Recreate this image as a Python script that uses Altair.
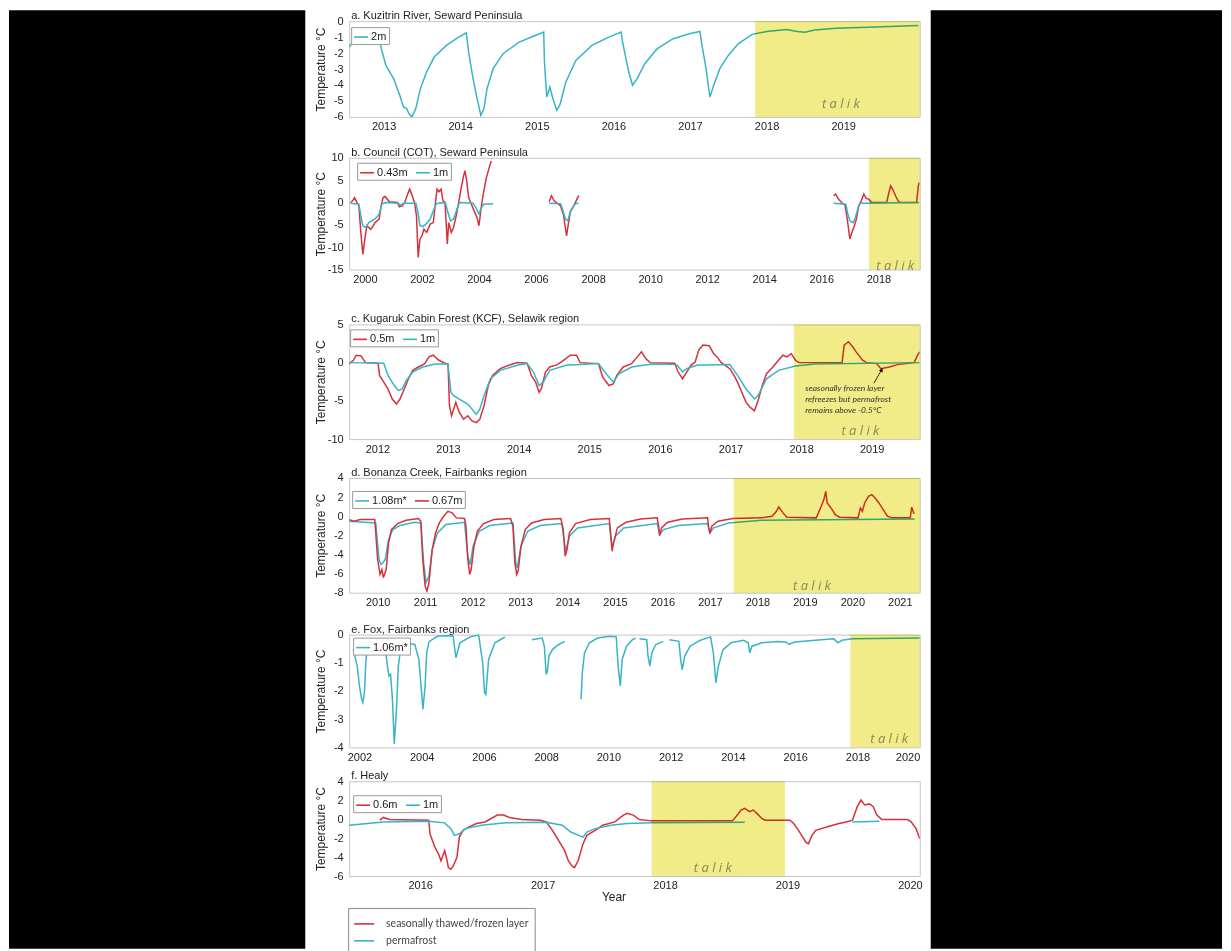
import altair as alt
import pandas as pd

FONT = "Liberation Sans"
NOTE_FONT = "Lato"
RED = "#d5323b"
CYAN = "#37b4c6"
TALIK_FILL = "#f2ec88"
TALIK_INK = "#86865a"
INK = "#222222"

# ---------------- data: (decimal year, temperature °C) ----------------
A_2M = [(2012.55, -1.63), (2012.63, -1.10), (2012.71, -0.79), (2012.84, -0.65), (2012.93, -0.65),
        (2012.97, -1.73), (2013.03, -2.77), (2013.13, -3.60), (2013.21, -4.65), (2013.26, -5.38),
        (2013.30, -5.48), (2013.33, -5.79), (2013.37, -6.0), (2013.42, -5.48), (2013.48, -4.23),
        (2013.56, -3.19), (2013.66, -2.25), (2013.82, -1.52), (2013.98, -1.0), (2014.08, -0.73),
        (2014.11, -1.94), (2014.16, -3.40), (2014.22, -4.85), (2014.27, -5.90), (2014.31, -5.48),
        (2014.35, -4.23), (2014.43, -2.98), (2014.56, -2.04), (2014.77, -1.31), (2014.98, -0.90),
        (2015.09, -0.69), (2015.10, -2.56), (2015.13, -4.75), (2015.17, -4.13), (2015.21, -4.85),
        (2015.26, -5.58), (2015.30, -5.27), (2015.38, -3.81), (2015.51, -2.46), (2015.72, -1.52),
        (2015.94, -1.0), (2016.10, -0.69), (2016.12, -1.31), (2016.20, -3.19), (2016.25, -4.02),
        (2016.31, -3.60), (2016.41, -2.67), (2016.57, -1.73), (2016.78, -1.10), (2016.99, -0.79),
        (2017.13, -0.65), (2017.15, -1.31), (2017.21, -2.98), (2017.26, -4.75), (2017.31, -4.02),
        (2017.39, -2.98), (2017.50, -2.15), (2017.63, -1.42), (2017.81, -0.83), (2018.00, -0.65),
        (2018.26, -0.52), (2018.40, -0.65), (2018.50, -0.69), (2018.63, -0.56), (2018.90, -0.44),
        (2019.32, -0.38), (2019.98, -0.27)]

B_043_1 = [(1999.50, 0.0), (1999.57, 0.37), (1999.64, 1.12), (1999.71, 0.15), (1999.79, -0.75),
           (1999.86, -6.7), (1999.93, -11.6), (2000.00, -8.2), (2000.07, -5.2), (2000.21, -6.0),
           (2000.36, -4.5), (2000.50, -3.7), (2000.57, -0.75), (2000.64, 1.12), (2000.71, 1.34),
           (2000.86, 0.15), (2001.14, 0.0), (2001.21, -0.97), (2001.31, -0.75), (2001.40, 0.0),
           (2001.50, 1.87), (2001.57, 2.99), (2001.64, 1.87), (2001.74, 0.0), (2001.81, -3.0),
           (2001.87, -12.3), (2001.93, -8.2), (2002.00, -7.5), (2002.07, -6.0), (2002.17, -6.7),
           (2002.29, -4.85), (2002.40, -4.5), (2002.47, -0.37), (2002.53, 2.99), (2002.60, 2.39),
           (2002.67, 2.99), (2002.74, 0.37), (2002.81, 0.0), (2002.89, -9.3), (2002.94, -4.5),
           (2003.03, -6.7), (2003.11, -5.6), (2003.20, -3.0), (2003.29, 0.0), (2003.37, 2.99),
           (2003.46, 5.97), (2003.51, 7.1), (2003.57, 4.85), (2003.64, 1.12), (2003.71, 0.0),
           (2003.83, -1.87), (2003.93, -3.36), (2004.00, -5.2), (2004.07, -1.5), (2004.14, 1.5),
           (2004.26, 5.6), (2004.36, 7.8), (2004.43, 9.3)]
B_043_2 = [(2006.46, 0.15), (2006.54, 1.5), (2006.63, 0.37), (2006.74, -0.15), (2006.86, -0.75),
           (2006.97, -3.0), (2007.07, -7.5), (2007.14, -4.5), (2007.21, -1.87), (2007.29, -1.12),
           (2007.37, -0.15), (2007.46, 1.12), (2007.51, 1.5)]
B_043_3 = [(2016.43, 1.5), (2016.50, 1.87), (2016.60, 0.75), (2016.71, 0.0), (2016.83, -0.6),
           (2016.91, -3.7), (2017.00, -8.2), (2017.07, -6.7), (2017.14, -5.6), (2017.23, -3.7),
           (2017.31, -0.75), (2017.40, 0.37), (2017.49, 1.87), (2017.57, 0.9), (2017.66, 0.75),
           (2017.77, 0.0), (2018.29, 0.0), (2018.37, 2.2), (2018.43, 3.7), (2018.50, 3.0),
           (2018.60, 1.5), (2018.71, 0.15), (2018.79, 0.0), (2019.34, 0.0), (2019.40, 3.7),
           (2019.43, 4.5)]
B_1M_1 = [(1999.50, -0.15), (1999.79, -0.37), (1999.86, -3.0), (1999.93, -5.2), (2000.03, -5.6),
          (2000.14, -4.5), (2000.36, -3.7), (2000.50, -2.6), (2000.60, -0.37), (2000.71, 0.0),
          (2001.14, -0.15), (2001.26, -0.6), (2001.37, -0.15), (2001.79, -0.15), (2001.86, -2.2),
          (2001.93, -5.2), (2002.03, -5.4), (2002.14, -4.85), (2002.29, -3.7), (2002.40, -1.87),
          (2002.50, -0.37), (2002.64, -0.07), (2002.83, -0.15), (2002.91, -2.2), (2003.00, -4.1),
          (2003.11, -3.7), (2003.21, -1.87), (2003.29, -0.37), (2003.36, 0.0), (2003.79, -0.15),
          (2003.89, -1.12), (2004.00, -2.6), (2004.09, -1.12), (2004.17, -0.37), (2004.50, -0.3)]
B_1M_2 = [(2006.46, -0.15), (2006.86, -0.3), (2006.93, -1.5), (2007.03, -3.7), (2007.11, -4.1),
          (2007.20, -2.2), (2007.29, -1.12), (2007.37, -0.3), (2007.49, -0.15)]
B_1M_3 = [(2016.43, -0.15), (2016.86, -0.37), (2016.93, -2.6), (2017.00, -4.1), (2017.11, -4.5),
          (2017.20, -3.36), (2017.29, -1.12), (2017.37, -0.15), (2019.43, 0.0)]

C_05 = [(2011.60, -0.13), (2011.66, 0.31), (2011.70, 0.97), (2011.77, 0.88), (2011.83, 0.0),
        (2012.01, -0.09), (2012.03, -1.67), (2012.09, -2.55), (2012.15, -3.44), (2012.21, -4.76),
        (2012.27, -5.42), (2012.32, -4.76), (2012.38, -3.44), (2012.44, -2.11), (2012.50, -1.01),
        (2012.58, -0.57), (2012.67, -0.13), (2012.73, 0.75), (2012.79, 0.97), (2012.87, 0.31),
        (2012.96, -0.09), (2013.00, -0.18), (2013.02, -5.64), (2013.05, -6.96), (2013.11, -5.20),
        (2013.16, -6.52), (2013.22, -7.40), (2013.28, -6.96), (2013.34, -7.62), (2013.40, -7.84),
        (2013.45, -7.40), (2013.51, -5.64), (2013.57, -3.0), (2013.63, -1.67), (2013.74, -0.79),
        (2013.86, -0.35), (2013.98, 0.0), (2014.12, -0.09), (2014.18, -1.67), (2014.24, -2.55),
        (2014.29, -3.88), (2014.32, -3.44), (2014.38, -1.23), (2014.44, -0.57), (2014.55, -0.26),
        (2014.67, 0.53), (2014.73, 0.97), (2014.82, 0.97), (2014.87, 0.0), (2015.13, -0.13),
        (2015.19, -1.89), (2015.28, -3.0), (2015.34, -2.78), (2015.39, -1.67), (2015.48, -0.57),
        (2015.60, -0.13), (2015.68, 0.75), (2015.74, 1.41), (2015.80, 0.53), (2015.86, 0.0),
        (2016.21, -0.09), (2016.26, -1.23), (2016.32, -2.11), (2016.38, -1.23), (2016.44, -0.35),
        (2016.50, 0.09), (2016.55, 1.63), (2016.61, 2.29), (2016.70, 2.20), (2016.76, 1.19),
        (2016.81, 0.75), (2016.87, 0.0), (2016.99, -0.79), (2017.05, -1.67), (2017.10, -2.55),
        (2017.16, -3.88), (2017.22, -5.20), (2017.28, -5.86), (2017.34, -6.30), (2017.39, -4.98),
        (2017.45, -3.0), (2017.51, -1.45), (2017.60, -0.57), (2017.68, 0.31), (2017.74, 0.97),
        (2017.80, 0.75), (2017.86, 1.19), (2017.92, 0.31), (2017.97, 0.0), (2018.58, 0.0),
        (2018.61, 2.29), (2018.67, 2.73), (2018.73, 2.07), (2018.78, 1.41), (2018.87, 0.31),
        (2018.93, 0.0), (2019.07, -0.13), (2019.13, -0.79), (2019.25, -0.57), (2019.36, -0.26),
        (2019.60, 0.0), (2019.65, 0.97), (2019.68, 1.41)]
C_1M = [(2011.60, 0.0), (2012.09, -0.09), (2012.15, -1.67), (2012.24, -3.0), (2012.30, -3.66),
        (2012.35, -3.44), (2012.41, -2.33), (2012.50, -1.23), (2012.64, -0.57), (2012.82, -0.18),
        (2013.00, -0.18), (2013.04, -3.88), (2013.08, -4.32), (2013.16, -4.76), (2013.28, -5.42),
        (2013.40, -6.74), (2013.45, -6.08), (2013.51, -4.32), (2013.60, -2.11), (2013.74, -1.01),
        (2013.98, -0.35), (2014.12, -0.13), (2014.21, -1.23), (2014.29, -3.0), (2014.35, -2.55),
        (2014.44, -1.01), (2014.67, -0.35), (2015.13, -0.13), (2015.22, -1.23), (2015.34, -2.55),
        (2015.42, -1.45), (2015.60, -0.57), (2015.89, -0.18), (2016.24, -0.26), (2016.32, -1.23),
        (2016.38, -0.79), (2016.52, -0.35), (2016.99, -0.26), (2017.10, -1.67), (2017.22, -3.44),
        (2017.34, -4.76), (2017.39, -4.32), (2017.51, -2.11), (2017.68, -1.01), (2017.92, -0.44),
        (2018.20, -0.18), (2019.68, 0.0)]

D_067 = [(2009.40, -0.35), (2009.50, -0.52), (2009.63, -0.35), (2009.94, -0.35), (2010.00, -4.52),
         (2010.05, -6.09), (2010.09, -5.57), (2010.12, -6.43), (2010.18, -5.57), (2010.23, -2.78),
         (2010.29, -1.39), (2010.42, -0.77), (2010.60, -0.42), (2010.86, -0.24), (2010.91, -0.52),
         (2010.95, -4.52), (2011.00, -7.30), (2011.04, -7.83), (2011.08, -6.96), (2011.15, -3.48),
         (2011.22, -1.74), (2011.30, -0.70), (2011.39, 0.0), (2011.48, 0.52), (2011.57, 0.35),
         (2011.66, -0.17), (2011.83, -0.24), (2011.86, -1.04), (2011.90, -4.52), (2011.94, -6.09),
         (2011.97, -5.57), (2012.03, -3.13), (2012.10, -1.57), (2012.23, -0.77), (2012.45, -0.35),
         (2012.80, -0.24), (2012.85, -1.04), (2012.89, -4.87), (2012.93, -6.09), (2012.96, -5.74),
         (2013.02, -3.13), (2013.11, -1.39), (2013.24, -0.70), (2013.51, -0.35), (2013.86, -0.24),
         (2013.91, -1.39), (2013.95, -4.17), (2013.99, -3.48), (2014.04, -1.74), (2014.17, -0.77),
         (2014.48, -0.35), (2014.88, -0.24), (2014.90, -1.39), (2014.94, -3.65), (2014.97, -2.78),
         (2015.05, -1.22), (2015.23, -0.63), (2015.54, -0.28), (2015.89, -0.17), (2015.92, -1.04),
         (2015.94, -2.02), (2015.98, -1.22), (2016.11, -0.63), (2016.42, -0.28), (2016.95, -0.17),
         (2016.97, -1.04), (2017.00, -1.81), (2017.04, -1.04), (2017.17, -0.52), (2017.48, -0.24),
         (2018.09, -0.17), (2018.31, 0.0), (2018.40, 0.52), (2018.45, 0.97), (2018.54, 0.35),
         (2018.62, -0.10), (2019.24, -0.17), (2019.33, 0.87), (2019.40, 1.74), (2019.44, 2.61),
         (2019.47, 1.39), (2019.55, 0.87), (2019.64, 0.17), (2019.73, -0.10), (2020.12, -0.17),
         (2020.17, 0.87), (2020.21, 0.52), (2020.26, 1.39), (2020.34, 2.09), (2020.41, 2.26),
         (2020.48, 1.91), (2020.56, 1.39), (2020.65, 0.70), (2020.74, 0.0), (2020.83, -0.17),
         (2021.22, -0.17), (2021.25, 0.97), (2021.29, 0.35), (2021.31, 0.28)]
D_108 = [(2009.40, -0.52), (2009.72, -0.63), (2009.96, -0.70), (2010.03, -4.52), (2010.07, -5.04),
         (2010.11, -4.87), (2010.16, -4.52), (2010.23, -2.43), (2010.32, -1.39), (2010.47, -0.97),
         (2010.78, -0.63), (2010.91, -0.70), (2010.97, -4.87), (2011.02, -6.96), (2011.08, -6.26),
         (2011.15, -3.48), (2011.26, -1.74), (2011.44, -0.87), (2011.83, -0.63), (2011.90, -4.17),
         (2011.95, -5.04), (2012.01, -3.13), (2012.14, -1.57), (2012.36, -0.97), (2012.85, -0.70),
         (2012.91, -4.87), (2012.94, -5.39), (2013.02, -3.13), (2013.16, -1.57), (2013.42, -0.97),
         (2013.88, -0.77), (2013.96, -3.65), (2014.04, -2.09), (2014.21, -1.22), (2014.88, -0.77),
         (2014.94, -3.30), (2015.01, -2.09), (2015.18, -1.22), (2015.89, -0.77), (2015.94, -1.91),
         (2016.02, -1.39), (2016.33, -0.97), (2016.95, -0.77), (2017.00, -1.74), (2017.08, -1.22),
         (2017.39, -0.70), (2018.09, -0.42), (2021.31, -0.28)]

E_106_1 = [(2001.80, -0.53), (2001.93, -1.12), (2002.00, -1.82), (2002.07, -2.29), (2002.11, -2.41),
           (2002.16, -2.06), (2002.20, -1.12), (2002.24, -0.41), (2002.33, -0.24), (2002.66, -0.29),
           (2002.82, -0.41), (2002.90, -1.12), (2002.95, -1.47), (2003.00, -1.41), (2003.06, -2.29),
           (2003.12, -3.88), (2003.19, -2.65), (2003.25, -1.12), (2003.32, -0.53), (2003.45, -0.29),
           (2003.78, -0.35), (2003.91, -0.88), (2003.98, -1.82), (2004.04, -2.65), (2004.11, -1.82),
           (2004.16, -0.65), (2004.24, -0.24), (2004.51, -0.06), (2004.77, -0.04), (2005.01, -0.06),
           (2005.10, -0.82), (2005.23, -0.29), (2005.56, -0.08), (2005.83, -0.01), (2005.96, -1.0),
           (2006.02, -2.06), (2006.06, -2.12), (2006.15, -0.88), (2006.35, -0.29), (2006.62, -0.12),
           (2006.68, -0.09)]
E_106_2 = [(2007.54, -0.18), (2007.87, -0.12), (2007.94, -0.41), (2008.00, -1.41), (2008.04, -1.29),
           (2008.09, -0.76), (2008.20, -0.53), (2008.40, -0.35), (2008.60, -0.24)]
E_106_3 = [(2009.12, -2.29), (2009.16, -1.35), (2009.23, -0.65), (2009.39, -0.29), (2009.65, -0.12),
           (2010.05, -0.06), (2010.25, -0.08), (2010.31, -1.12), (2010.38, -1.82), (2010.44, -0.88),
           (2010.58, -0.41), (2010.77, -0.18), (2010.87, -0.13)]
E_106_4 = [(2011.00, -0.15), (2011.23, -0.18), (2011.27, -0.76), (2011.33, -1.12), (2011.39, -0.65),
           (2011.52, -0.35), (2011.76, -0.24)]
E_106_5 = [(2011.96, -0.18), (2012.26, -0.24), (2012.32, -0.88), (2012.37, -1.24), (2012.45, -0.76),
           (2012.62, -0.41), (2012.95, -0.20), (2013.28, -0.08), (2013.37, -0.65), (2013.45, -1.71),
           (2013.53, -1.12), (2013.68, -0.53), (2013.94, -0.29), (2014.34, -0.20), (2014.49, -0.29),
           (2014.54, -0.65), (2014.61, -0.41), (2014.93, -0.29), (2015.46, -0.24), (2015.72, -0.27),
           (2015.80, -0.35), (2015.98, -0.26), (2016.64, -0.20), (2017.24, -0.15), (2017.37, -0.29),
           (2017.50, -0.20), (2017.83, -0.15), (2020.00, -0.12)]

F_06 = [(2015.67, -0.11), (2015.70, 0.18), (2015.75, -0.04), (2016.07, -0.11), (2016.08, -1.54),
        (2016.12, -2.96), (2016.15, -3.68), (2016.17, -4.39), (2016.18, -4.04), (2016.20, -3.32),
        (2016.22, -4.39), (2016.23, -5.11), (2016.25, -5.29), (2016.27, -4.93), (2016.30, -4.04),
        (2016.32, -1.89), (2016.35, -1.18), (2016.40, -0.82), (2016.46, -0.46), (2016.53, -0.29),
        (2016.58, 0.07), (2016.63, 0.43), (2016.68, 0.43), (2016.73, 0.18), (2016.83, -0.04),
        (2016.98, -0.11), (2017.03, -0.29), (2017.08, -1.18), (2017.13, -2.25), (2017.18, -3.32),
        (2017.21, -4.39), (2017.24, -4.93), (2017.26, -5.11), (2017.29, -4.39), (2017.33, -2.61),
        (2017.36, -1.71), (2017.43, -1.18), (2017.49, -0.64), (2017.59, -0.29), (2017.66, 0.43),
        (2017.69, 0.61), (2017.74, 0.43), (2017.79, -0.04), (2017.89, -0.18), (2018.55, -0.18),
        (2018.59, 0.43), (2018.62, 0.96), (2018.65, 1.14), (2018.69, 0.79), (2018.72, 0.96),
        (2018.75, 0.61), (2018.79, 0.07), (2018.82, -0.11), (2019.02, -0.11), (2019.05, -0.46),
        (2019.09, -1.18), (2019.15, -2.43), (2019.17, -2.61), (2019.20, -1.71), (2019.23, -1.18),
        (2019.32, -0.82), (2019.42, -0.46), (2019.48, -0.29), (2019.53, -0.11), (2019.57, 1.32),
        (2019.60, 2.04), (2019.63, 1.50), (2019.67, 1.61), (2019.70, 1.32), (2019.73, 0.43),
        (2019.77, -0.04), (2019.98, -0.04), (2020.01, -0.29), (2020.05, -1.00), (2020.08, -2.07)]
F_1M_1 = [(2015.42, -0.64), (2015.70, -0.29), (2016.07, -0.21), (2016.20, -0.39), (2016.25, -1.0),
          (2016.28, -1.71), (2016.32, -1.54), (2016.37, -1.0), (2016.50, -0.64), (2016.70, -0.39),
          (2017.03, -0.32), (2017.16, -0.64), (2017.23, -1.36), (2017.33, -1.89), (2017.36, -1.36),
          (2017.43, -1.0), (2017.56, -0.64), (2017.69, -0.46), (2017.89, -0.39), (2018.65, -0.32)]
F_1M_2 = [(2019.53, -0.29), (2019.75, -0.21)]

# panel texts and axes
PANEL_TITLES = ["a. Kuzitrin River, Seward Peninsula",
                "b. Council (COT), Seward Peninsula",
                "c. Kugaruk Cabin Forest (KCF), Selawik region",
                "d. Bonanza Creek, Fairbanks region",
                "e. Fox, Fairbanks region",
                "f. Healy"]
X_DOMAINS = [[2012.55, 2020.0], [1999.45, 2019.45], [2011.6, 2019.68],
             [2009.4, 2021.42], [2001.67, 2020.0], [2015.42, 2020.08]]
X_TICKS = [list(range(2013, 2020)), list(range(2000, 2019, 2)), list(range(2012, 2020)),
           list(range(2010, 2022)), list(range(2002, 2021, 2)), list(range(2016, 2021))]
Y_DOMAINS = [[-6, 0], [-15, 10], [-10, 5], [-8, 4], [-4, 0], [-6, 4]]
Y_TICKS = [list(range(-6, 1)), list(range(-15, 11, 5)), list(range(-10, 6, 5)),
           list(range(-8, 5, 2)), list(range(-4, 1)), list(range(-6, 5, 2))]
TALIK_START = [2017.85, 2017.67, 2017.90, 2017.50, 2017.77, 2017.89]
TALIK_END = [2020.0, 2019.45, 2019.68, 2021.42, 2020.0, 2018.98]
TALIK_LABEL_YEAR = [2018.97, 2018.59, 2018.84, 2019.15, 2019.02, 2018.39]
TALIK_LABEL_TEMP = [-5.17, -14.2, -8.94, -7.3, -3.7, -5.18]
C_NOTE_LINES = ["seasonally frozen layer", "refreezes but permafrost", "remains above -0.5°C"]
C_NOTE_YEAR = [2018.06, 2018.06, 2018.06]
C_NOTE_TEMP = [-3.35, -4.76, -6.17]
C_ARROW_TAIL = (2019.03, -2.7)
C_ARROW_HEAD = (2019.14, -0.95)
BOTTOM_LEGEND = ["seasonally thawed/frozen layer", "permafrost"]

# ---------------- layout (pixels) ----------------
PLOT_W = 572
HEIGHTS = [96, 112, 115, 115, 113, 95]
SPACINGS = [13, 27, 11, 14, 6]
LEGEND_POS = [(2, 6), (8, 5), (1, 5), (3, 13), (4, 3), (4, 14)]
TOP_EXT = 11
BAND_H = 930


def make_panel(i, series, extra=None, xtitle=None):
    xdom, ydom, h = X_DOMAINS[i], Y_DOMAINS[i], HEIGHTS[i]
    rows = []
    for label, _, segs in series:
        for k, seg in enumerate(segs):
            for yr, t in seg:
                rows.append({"year": yr, "temp": t, "series": label, "seg": f"{label}-{k}"})
    df = pd.DataFrame(rows)

    if xtitle:
        x_axis = alt.Axis(values=X_TICKS[i], format="d", labelOverlap=False, title=xtitle,
                          titlePadding=1, titleFontSize=12, titleX=265)
    else:
        x_axis = alt.Axis(values=X_TICKS[i], format="d", labelOverlap=False, title=None)
    y_axis = alt.Axis(values=Y_TICKS[i], labelExpr="'' + datum.value", labelOverlap=False,
                      title="Temperature °C", titleX=-29, titleY=h / 2, titleAngle=270,
                      titleAlign="center", titleBaseline="middle")
    X = alt.X("year:Q", scale=alt.Scale(domain=xdom, nice=False, zero=False), axis=x_axis)
    Y = alt.Y("temp:Q", scale=alt.Scale(domain=ydom, nice=False, zero=False), axis=y_axis)

    lx, ly = LEGEND_POS[i]
    lines = alt.Chart(df).mark_line(strokeWidth=1.5, clip=True).encode(
        x=X, y=Y,
        color=alt.Color("series:N",
                        scale=alt.Scale(domain=[s[0] for s in series], range=[s[1] for s in series]),
                        legend=alt.Legend(orient="none", legendX=lx, legendY=ly, direction="horizontal",
                                          title=None, symbolType="stroke", symbolSize=196,
                                          symbolStrokeWidth=1.6, labelFont=FONT, labelFontSize=11,
                                          labelColor=INK, labelOffset=2, columnPadding=4, padding=2,
                                          strokeColor="#9a9a9a", fillColor="white")),
        detail="seg:N")

    tdf = pd.DataFrame({"year": [TALIK_START[i]], "year_end": [TALIK_END[i]],
                        "temp": [ydom[1]], "temp_end": [ydom[0]]})
    rect = alt.Chart(tdf).mark_rect(color=TALIK_FILL, blend="multiply").encode(
        x=X, x2="year_end:Q", y=Y, y2="temp_end:Q")
    ldf = pd.DataFrame({"year": [TALIK_LABEL_YEAR[i]], "temp": [TALIK_LABEL_TEMP[i]], "txt": ["t a l i k"]})
    label = alt.Chart(ldf).mark_text(font="Open Sans", fontStyle="italic", fontSize=13,
                                     color=TALIK_INK).encode(x=X, y=Y, text="txt:N")
    layers = [lines, rect, label]
    if extra is not None:
        layers += extra(X, Y)
    return alt.layer(*layers).properties(
        width=PLOT_W, height=h,
        title=alt.TitleParams(PANEL_TITLES[i], anchor="start", frame="group", offset=-4, dx=2, dy=13,
                              baseline="bottom", fontSize=11, fontWeight="normal", font=FONT, color=INK))


def c_extra(X, Y):
    note = pd.DataFrame({"year": C_NOTE_YEAR, "temp": C_NOTE_TEMP, "txt": C_NOTE_LINES})
    t = alt.Chart(note).mark_text(align="left", baseline="middle", font=NOTE_FONT, fontStyle="italic",
                                  fontSize=8.5, color="#333333").encode(x=X, y=Y, text="txt:N")
    arrow = pd.DataFrame({"year": [C_ARROW_TAIL[0]], "temp": [C_ARROW_TAIL[1]],
                          "year_end": [C_ARROW_HEAD[0]], "temp_end": [C_ARROW_HEAD[1]]})
    r = alt.Chart(arrow).mark_rule(color="black", strokeWidth=0.8).encode(
        x=X, y=Y, x2="year_end:Q", y2="temp_end:Q")
    head = pd.DataFrame({"year": [C_ARROW_HEAD[0]], "temp": [C_ARROW_HEAD[1]]})
    p = alt.Chart(head).mark_point(shape="triangle-up", filled=True, size=18, angle=26,
                                   color="black", opacity=1).encode(x=X, y=Y)
    return [t, r, p]


def f_extra(X, Y):
    d = pd.DataFrame({"year": [X_DOMAINS[5][0]] * 2, "temp": [Y_DOMAINS[5][0]] * 2,
                      "layer": BOTTOM_LEGEND})
    leg = alt.Chart(d).mark_line(clip=True).encode(
        x=X, y=Y,
        stroke=alt.Stroke("layer:N", scale=alt.Scale(domain=BOTTOM_LEGEND, range=[RED, CYAN]),
                          legend=alt.Legend(orient="none", legendX=-1, legendY=127, direction="vertical",
                                            title=None, symbolType="stroke", symbolSize=400,
                                            symbolStrokeWidth=1.6, labelFont=NOTE_FONT, labelFontSize=10.5,
                                            labelColor="#444444", labelOffset=11, padding=5, rowPadding=0,
                                            strokeColor="#8a8a8a", fillColor="white")))
    return [leg]


p_a = make_panel(0, [("2m", CYAN, [A_2M])])
p_b = make_panel(1, [("0.43m", RED, [B_043_1, B_043_2, B_043_3]), ("1m", CYAN, [B_1M_1, B_1M_2, B_1M_3])])
p_c = make_panel(2, [("0.5m", RED, [C_05]), ("1m", CYAN, [C_1M])], extra=c_extra)
p_d = make_panel(3, [("1.08m*", CYAN, [D_108]), ("0.67m", RED, [D_067])])
p_e = make_panel(4, [("1.06m*", CYAN, [E_106_1, E_106_2, E_106_3, E_106_4, E_106_5])])
p_f = make_panel(5, [("0.6m", RED, [F_06]), ("1m", CYAN, [F_1M_1, F_1M_2])], extra=f_extra, xtitle="Year")


def stack(top, rest, s):
    return alt.vconcat(top, rest, spacing=s).resolve_scale(
        color="independent", stroke="independent", x="independent", y="independent")


main = stack(p_a, stack(p_b, stack(p_c, stack(p_d, stack(p_e, p_f, SPACINGS[4]), SPACINGS[3]),
                                     SPACINGS[2]), SPACINGS[1]), SPACINGS[0])


def band(w):
    # black side band (page letterbox), reaching the top of the title row
    return alt.Chart(pd.DataFrame({"v": [0]})).mark_rect(color="black").encode(
        x=alt.value(0), x2=alt.value(w), y=alt.value(-TOP_EXT), y2=alt.value(BAND_H)
    ).properties(width=w, height=BAND_H, view=alt.ViewBackground(stroke="transparent"))


chart = alt.hconcat(band(297), main, band(292), spacing=7).properties(
    padding=0, background="white"
).configure(font=FONT).configure_view(stroke="#c6c6c6", strokeWidth=1).configure_axis(
    labelFont=FONT, labelFontSize=11, labelColor=INK, titleFont=FONT, titleFontSize=12,
    titleFontWeight="normal", titleColor=INK, ticks=False, tickSize=0, domain=False, grid=False
).configure_axisX(labelPadding=4).configure_axisY(labelPadding=6)

chart.save("out.html", embed_options={"renderer": "svg", "actions": False})
